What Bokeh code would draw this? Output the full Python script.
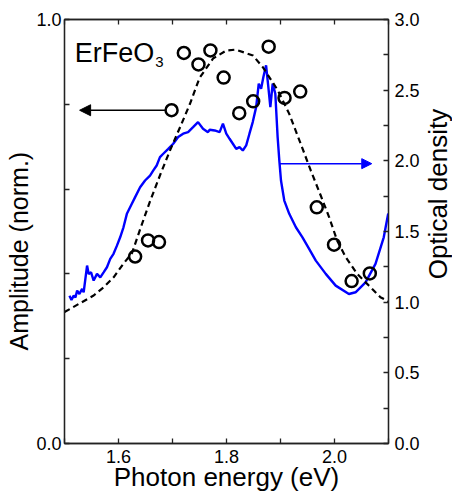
import math
from bokeh.plotting import figure
from bokeh.layouts import row
from bokeh.models import (Range1d, LinearAxis, FixedTicker, Arrow, NormalHead, Label,
                          PrintfTickFormatter, Title)
from bokeh.core.properties import value
from bokeh.embed import file_html
from bokeh.resources import INLINE

# ---- data ----
od_energy = [1.5092, 1.5129, 1.5171, 1.5203, 1.5234, 1.5276, 1.5326, 1.5355, 1.5418, 1.5448,
             1.5492, 1.5540, 1.5602, 1.5663, 1.5724, 1.5786, 1.5847, 1.5908, 1.5971, 1.6031,
             1.6092, 1.6155, 1.6247, 1.6308, 1.6400, 1.6492, 1.6584, 1.6645, 1.6707, 1.6768,
             1.6829, 1.6921, 1.7013, 1.7105, 1.7197, 1.7289, 1.7381, 1.7473, 1.7565, 1.7657,
             1.7689, 1.7781, 1.7873, 1.7934, 1.7996, 1.8057, 1.8118, 1.8180, 1.8241, 1.8302,
             1.8365, 1.8425, 1.8486, 1.8549, 1.8597, 1.8641, 1.8683, 1.8733, 1.8775, 1.8812,
             1.8855, 1.8904, 1.8947, 1.8978, 1.9009, 1.9070, 1.9162, 1.9285, 1.9407, 1.9530,
             1.9654, 1.9838, 2.0022, 2.0267, 2.0390, 2.0575, 2.0759, 2.0912, 2.0995]
od_value = [1.046, 1.016, 1.046, 1.034, 1.082, 1.058, 1.094, 1.070, 1.259, 1.200,
            1.211, 1.153, 1.200, 1.176, 1.211, 1.247, 1.306, 1.342, 1.400, 1.459,
            1.530, 1.625, 1.696, 1.743, 1.813, 1.861, 1.896, 1.932, 1.967, 2.026,
            2.050, 2.085, 2.121, 2.168, 2.192, 2.203, 2.238, 2.274, 2.227, 2.203,
            2.220, 2.215, 2.203, 2.263, 2.192, 2.156, 2.121, 2.085, 2.097, 2.073,
            2.109, 2.192, 2.274, 2.380, 2.546, 2.510, 2.593, 2.676, 2.522, 2.380,
            2.546, 2.475, 2.168, 2.003, 1.861, 1.719, 1.625, 1.530, 1.459, 1.377,
            1.294, 1.200, 1.117, 1.058, 1.070, 1.140, 1.271, 1.459, 1.627]

fit_energy = [1.500, 1.529, 1.554, 1.572, 1.591, 1.609, 1.625, 1.640, 1.658, 1.677,
              1.695, 1.714, 1.732, 1.750, 1.775, 1.800, 1.817, 1.849, 1.867, 1.895,
              1.916, 1.941, 1.956, 1.972, 1.990, 2.005, 2.021, 2.042, 2.064, 2.085, 2.100]
fit_amp = [0.310, 0.331, 0.349, 0.368, 0.392, 0.424, 0.449, 0.505, 0.570, 0.633,
           0.690, 0.746, 0.800, 0.862, 0.908, 0.927, 0.929, 0.915, 0.888, 0.833,
           0.778, 0.695, 0.644, 0.593, 0.534, 0.478, 0.439, 0.400, 0.372, 0.345, 0.335]

amp_energy = [1.6308, 1.6547, 1.6750, 1.6983, 1.7210, 1.7481, 1.7702, 1.7947, 1.8236,
              1.8494, 1.8781, 1.9075, 1.9365, 1.9672, 1.9991, 2.0317, 2.0654]
amp_value = [0.441, 0.479, 0.475, 0.786, 0.921, 0.894, 0.927, 0.863, 0.779,
             0.807, 0.936, 0.815, 0.830, 0.557, 0.469, 0.383, 0.401]

x_major = [1.6, 1.8, 2.0]
x_minor = [1.5, 1.7, 1.9, 2.1]
x_all = [1.5, 1.6, 1.7, 1.8, 1.9, 2.0, 2.1]
left_major = [0.0, 1.0]
left_minor = [0.2, 0.4, 0.6, 0.8]
right_major = [0.0, 0.5, 1.0, 1.5, 2.0, 2.5, 3.0]
right_minor = [0.25, 0.75, 1.25, 1.75, 2.25, 2.75]

black_arrow_x = [1.686, 1.528]
black_arrow_y = [0.786, 0.786]
blue_arrow_x = [1.899, 2.069]
blue_arrow_y = [1.98, 1.98]

right_title_x = [0.5]
right_title_y = [1.765]
right_title = ["Optical density"]

FONT = "Liberation Sans"
AX = "#222222"

p = figure(width=422, height=497, x_range=Range1d(1.5, 2.1), y_range=Range1d(0, 1),
           output_backend="svg", toolbar_location=None,
           min_border_left=64, min_border_right=33, min_border_top=19, min_border_bottom=54,
           x_axis_location=None, y_axis_location=None)
p.extra_y_ranges = {"od": Range1d(0, 3)}
p.xgrid.visible = False
p.ygrid.visible = False
p.outline_line_color = AX
p.outline_line_width = 1.3
p.background_fill_color = "white"
p.border_fill_color = "white"


def style(ax):
    ax.axis_line_color = AX
    ax.axis_line_width = 1.3
    ax.major_tick_line_color = AX
    ax.minor_tick_line_color = AX
    ax.major_tick_line_width = 1.3
    ax.minor_tick_line_width = 1.3
    ax.major_tick_in = 5
    ax.major_tick_out = 0
    ax.minor_tick_in = 5
    ax.minor_tick_out = 0
    ax.major_label_text_font = FONT
    ax.major_label_text_font_size = "18px"
    ax.major_label_text_color = "black"
    ax.axis_label_text_font = FONT
    ax.axis_label_text_font_size = "26px"
    ax.axis_label_text_font_style = "normal"
    ax.axis_label_text_color = "black"


fmt = PrintfTickFormatter(format="%.1f")

xb = LinearAxis(ticker=FixedTicker(ticks=x_major, minor_ticks=x_minor),
                formatter=fmt, axis_label="Photon energy (eV)")
style(xb)
xb.major_label_standoff = 6
xb.axis_label_standoff = -4
p.add_layout(xb, "below")

xt = LinearAxis(ticker=FixedTicker(ticks=[], minor_ticks=x_all))
style(xt)
p.add_layout(xt, "above")

yl = LinearAxis(ticker=FixedTicker(ticks=left_major, minor_ticks=left_minor),
                formatter=fmt)
style(yl)
yl.major_label_standoff = 3
p.add_layout(yl, "left")
p.add_layout(Title(text="Amplitude (norm.)", align="left", offset=93, standoff=1,
                   text_font=FONT, text_font_size="25px", text_font_style="normal",
                   text_color="black"), "left")

yr = LinearAxis(y_range_name="od",
                ticker=FixedTicker(ticks=right_major, minor_ticks=right_minor),
                formatter=fmt)
style(yr)
yr.major_label_standoff = 6
p.add_layout(yr, "right")

# blue optical density curve
p.line(od_energy, od_value, y_range_name="od", line_color="#0000ff", line_width=2.4)
# dashed fit
p.line(fit_energy, fit_amp, line_color="black", line_width=2.2, line_dash="6 4")
# circles
p.scatter(amp_energy, amp_value, marker="circle", size=12, fill_color=None,
          line_color="black", line_width=2.5)

p.add_layout(Arrow(end=NormalHead(size=11, fill_color="black", line_color="black", line_width=1),
                   x_start=black_arrow_x[0], y_start=black_arrow_y[0],
                   x_end=black_arrow_x[1], y_end=black_arrow_y[1],
                   line_color="black", line_width=1.5))
p.add_layout(Arrow(end=NormalHead(size=10, fill_color="#0000ff", line_color="#0000ff", line_width=1),
                   x_start=blue_arrow_x[0], y_start=blue_arrow_y[0],
                   x_end=blue_arrow_x[1], y_end=blue_arrow_y[1],
                   y_range_name="od", line_color="#0000ff", line_width=1.5))

p.add_layout(Label(x=1.519, y=0.920, text="ErFeO", text_font=FONT, text_font_size="27px",
                   text_color="black", text_baseline="alphabetic", text_align="left"))
p.add_layout(Label(x=1.668, y=0.899, text="3", text_font=FONT, text_font_size="15px",
                   text_color="black", text_baseline="alphabetic", text_align="left"))

# narrow strip holding the right-hand axis title (reads bottom-to-top)
p2 = figure(width=30, height=497, x_range=Range1d(0, 1), y_range=Range1d(0, 3),
            output_backend="svg", toolbar_location=None,
            min_border_left=0, min_border_right=0, min_border_top=19, min_border_bottom=54,
            x_axis_location=None, y_axis_location=None)
p2.xgrid.visible = False
p2.ygrid.visible = False
p2.outline_line_color = None
p2.background_fill_color = "white"
p2.border_fill_color = "white"
p2.text(x=right_title_x, y=right_title_y, text=right_title, angle=math.pi / 2,
        text_font=value(FONT), text_font_size="26px", text_color="black",
        text_align="center", text_baseline="middle")

layout = row(p, p2, spacing=0)
open("out.html", "w").write(file_html(layout, INLINE))
